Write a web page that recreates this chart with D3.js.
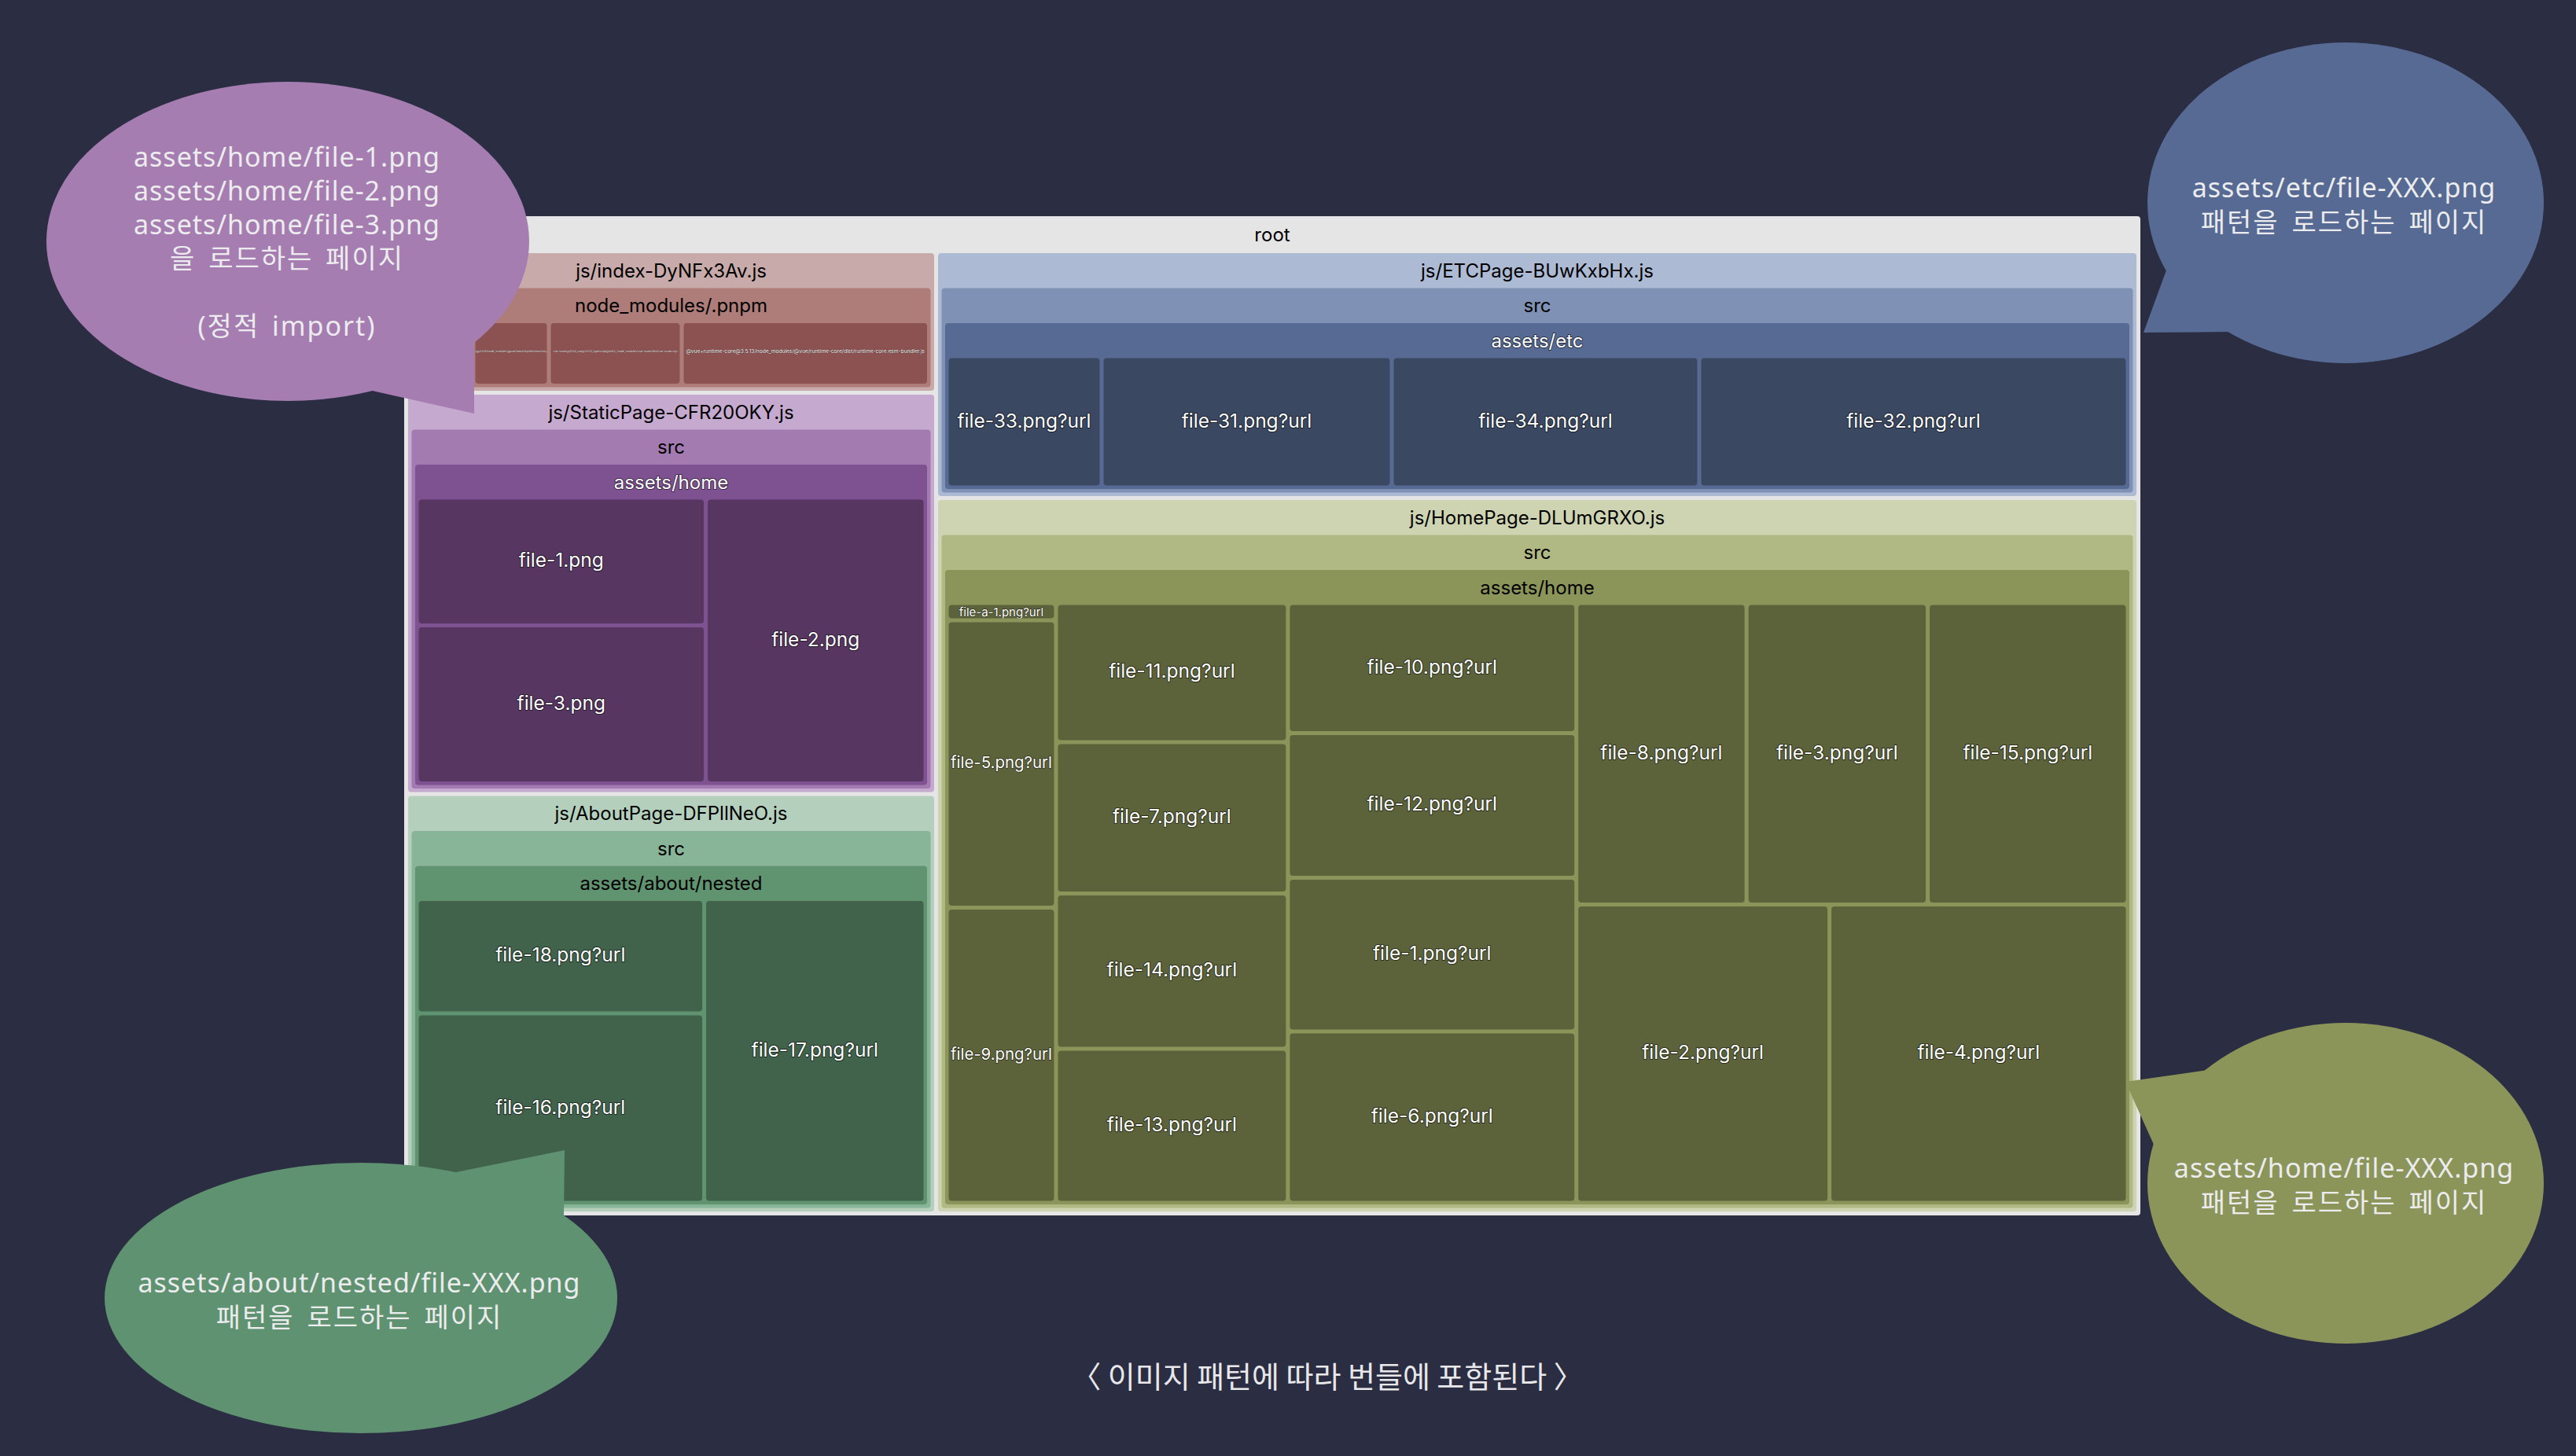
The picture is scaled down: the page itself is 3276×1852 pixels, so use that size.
<!DOCTYPE html>
<html>
<head>
<meta charset="utf-8">
<script src="https://cdn.jsdelivr.net/npm/d3@7"></script>
<style>
  html, body { margin: 0; padding: 0; background: #2b2d42; }
  svg { display: block; }
</style>
</head>
<body>
<svg id="chart" width="3276" height="1852"></svg>
<script>
// ---------------- DATA ----------------
const bundleNames = ["js/index-DyNFx3Av.js", "js/StaticPage-CFR20OKY.js", "js/AboutPage-DFPllNeO.js", "js/ETCPage-BUwKxbHx.js", "js/HomePage-DLUmGRXO.js"];
const bundleDirs = [["node_modules/.pnpm"], ["src", "assets/home"], ["src", "assets/about/nested"], ["src", "assets/etc"], ["src", "assets/home"]];

const indexFiles = [
  "@vue+shared@3.5.13/node_modules/@vue/shared/dist/shared.esm-bundler.js",
  "@vue+reactivity@3.5.13/node_modules/@vue/reactivity/dist/reactivity.esm-bundler.js",
  "vue-router@4.5.0_vue@3.5.13_typescript@5.6.3_/node_modules/vue-router/dist/vue-router.mjs",
  "@vue+runtime-core@3.5.13/node_modules/@vue/runtime-core/dist/runtime-core.esm-bundler.js"
];
const indexSizes = [14.15, 17.75, 31.25, 58.16];

const staticFiles = ["file-1.png", "file-3.png", "file-2.png"];
const staticSizes = [87.42, 108.05, 148.60];

const aboutFiles = ["file-18.png?url", "file-16.png?url", "file-17.png?url"];
const aboutSizes = [76.52, 126.65, 156.41];

const etcFiles = ["file-33.png?url", "file-31.png?url", "file-34.png?url", "file-32.png?url"];
const etcSizes = [62.97, 117.95, 124.98, 174.21];

const homeFiles = ["file-a-1.png?url", "file-5.png?url", "file-9.png?url",
  "file-11.png?url", "file-7.png?url", "file-14.png?url", "file-13.png?url",
  "file-10.png?url", "file-12.png?url", "file-1.png?url", "file-6.png?url",
  "file-8.png?url", "file-3.png?url", "file-15.png?url", "file-2.png?url", "file-4.png?url"];
const homeSizes = [3.72, 61.65, 63.35, 63.36, 68.92, 70.72, 70.18, 73.69, 81.95, 87.09, 97.13, 100.77, 107.29, 118.46, 148.31, 174.80];

const bundleFiles = [indexFiles, staticFiles, aboutFiles, etcFiles, homeFiles];
const bundleSizes = [indexSizes, staticSizes, aboutSizes, etcSizes, homeSizes];

// colour shades per bundle, by depth (bundle, dir..., leaf)
const bundleShades = [
  ["#c9aaaa", "#ae7d79", "#8c5251"],
  ["#c6a9cf", "#a37bb0", "#7e5290", "#573762"],
  ["#b4d0bd", "#88b598", "#609370", "#41624b"],
  ["#adbad4", "#7f91b5", "#566a93", "#3a4862"],
  ["#ced4b1", "#b0b983", "#8b955a", "#5c633b"]
];
const rootColor = "#e5e5e5";

// annotation bubbles
const bubbleTexts = [
  ["assets/home/file-1.png", "assets/home/file-2.png", "assets/home/file-3.png", "을 로드하는 페이지", "", "(정적 import)"],
  ["assets/etc/file-XXX.png", "패턴을 로드하는 페이지"],
  ["assets/about/nested/file-XXX.png", "패턴을 로드하는 페이지"],
  ["assets/home/file-XXX.png", "패턴을 로드하는 페이지"]
];
const caption = "〈 이미지 패턴에 따라 번들에 포함된다 〉";

// ---------------- BUILD HIERARCHY ----------------
const data = {
  name: "root",
  children: bundleNames.map((b, i) => {
    let inner = bundleFiles[i].map((f, j) => ({ name: f, value: bundleSizes[i][j] }));
    for (let k = bundleDirs[i].length - 1; k >= 0; k--) {
      inner = [{ name: bundleDirs[i][k], children: inner }];
    }
    return { name: b, group: i, children: inner };
  })
};

const svg = d3.select("#chart");

// treemap area
const TM = { x: 514, y: 275, w: 2208, h: 1271 };

const root = d3.hierarchy(data).sum(d => d.value || 0);
d3.treemap()
  .size([TM.w, TM.h])
  .paddingTop(d => d.depth === 0 ? 47 : 44.5)
  .paddingLeft(d => d.depth === 0 ? 5 : 4.5)
  .paddingRight(d => d.depth === 0 ? 5 : 4.5)
  .paddingBottom(d => d.depth === 0 ? 5 : 4.5)
  .paddingInner(5)(root);

function groupOf(d) { let n = d; while (n.depth > 1) n = n.parent; return n.data.group; }
function colorOf(d) { return d.depth === 0 ? rootColor : bundleShades[groupOf(d)][d.depth - 1]; }
function isDark(c) { return d3.lab(c).l < 50; }

const defs = svg.append("defs");
const g = svg.append("g").attr("transform", `translate(${TM.x},${TM.y})`);
const FONT = "Inter, 'Helvetica Neue', Arial, sans-serif";

const nodes = root.descendants();
const cell = g.selectAll("g.node").data(nodes).join("g").attr("class", "node");

cell.append("rect")
  .attr("x", d => d.x0).attr("y", d => d.y0)
  .attr("width", d => d.x1 - d.x0).attr("height", d => d.y1 - d.y0)
  .attr("rx", 4).attr("ry", 4)
  .attr("fill", d => colorOf(d));

// clip paths for leaves
nodes.filter(d => !d.children).forEach((d, i) => {
  d.clipId = "clip" + i;
  defs.append("clipPath").attr("id", d.clipId)
    .append("rect").attr("x", d.x0 + TM.x).attr("y", d.y0 + TM.y)
    .attr("width", d.x1 - d.x0).attr("height", d.y1 - d.y0);
});

// titles of internal nodes
cell.filter(d => d.children).append("text")
  .attr("x", d => (d.x0 + d.x1) / 2)
  .attr("y", d => d.y0 + (d.depth === 0 ? 47 : 44.5) / 2)
  .attr("text-anchor", "middle")
  .attr("dominant-baseline", "central")
  .attr("font-family", FONT)
  .attr("font-size", 24)
  .attr("fill", d => isDark(colorOf(d)) ? "#ffffff" : "#000000")
  .attr("stroke", d => isDark(colorOf(d)) ? "rgba(0,0,0,0.55)" : "none")
  .attr("stroke-width", 2)
  .attr("paint-order", "stroke")
  .attr("stroke-linejoin", "round")
  .text(d => d.data.name);

// leaf labels
const leafText = cell.filter(d => !d.children).append("text")
  .attr("clip-path", d => `url(#${d.clipId})`)
  .attr("transform", `translate(${-TM.x},${-TM.y})`)
  .attr("x", d => (d.x0 + d.x1) / 2 + TM.x)
  .attr("y", d => (d.y0 + d.y1) / 2 + TM.y - 2)
  .attr("text-anchor", "middle")
  .attr("dominant-baseline", "central")
  .attr("font-family", FONT)
  .attr("font-size", 24.5)
  .attr("fill", "#ffffff")
  .attr("stroke", "rgba(0,0,0,0.55)")
  .attr("paint-order", "stroke")
  .attr("stroke-linejoin", "round")
  .text(d => d.data.name);

leafText.each(function(d) {
  const t = d3.select(this);
  const len = this.getComputedTextLength();
  const w = d.x1 - d.x0, h = d.y1 - d.y0;
  let fs = 24.5;
  if (len > w - 5) fs = 24.5 * (w - 5) / len;
  if (fs > h * 0.88) fs = h * 0.88;
  fs = Math.max(fs, 3.5);
  t.attr("font-size", fs).attr("stroke-width", Math.max(0.3, fs / 12));
  if (h < 30) t.attr("y", (d.y0 + d.y1) / 2 + TM.y);
});

// ---------------- ANNOTATIONS ----------------
const bubbles = [
  { fill: "#a57db1", cx: 366, cy: 307, rx: 307, ry: 203, tail: [[460, 494], [603, 526], [603, 405]], tx: 365, ty: 212, lh: 43 },
  { fill: "#566a93", cx: 2983, cy: 258, rx: 252, ry: 204, tail: [[2760, 330], [2726, 423], [2840, 422]], tx: 2981, ty: 251, lh: 44 },
  { fill: "#5f9270", cx: 459, cy: 1651, rx: 326, ry: 172, tail: [[575, 1492], [718, 1463], [717, 1548]], tx: 457, ty: 1644, lh: 44 },
  { fill: "#8b955a", cx: 2983, cy: 1505, rx: 252, ry: 204, tail: [[2808, 1361], [2703, 1376], [2740, 1458]], tx: 2981, ty: 1498, lh: 44 }
];

const ann = svg.append("g");
bubbles.forEach((b, i) => {
  const bg = ann.append("g");
  bg.append("polygon").attr("points", b.tail.map(p => p.join(",")).join(" ")).attr("fill", b.fill);
  bg.append("ellipse").attr("cx", b.cx).attr("cy", b.cy).attr("rx", b.rx).attr("ry", b.ry).attr("fill", b.fill);
  const txt = bg.append("text")
    .attr("text-anchor", "middle")
    .attr("font-family", "'Noto Sans', 'Noto Sans CJK KR', sans-serif")
    .attr("font-size", 34)
    .attr("fill", "#ececee");
  bubbleTexts[i].forEach((line, k) => {
    const hangul = /[가-힣]/.test(line);
    txt.append("tspan")
      .attr("x", b.tx).attr("y", b.ty + k * b.lh)
      .attr("letter-spacing", hangul ? 2 : 1)
      .attr("word-spacing", hangul ? 5 : 0)
      .text(line);
  });
});

svg.append("text")
  .attr("x", 1688).attr("y", 1765)
  .attr("text-anchor", "middle")
  .attr("font-family", "'Noto Sans CJK KR', sans-serif")
  .attr("font-size", 38)
  .attr("fill", "#e8e8ea")
  .text(caption);
</script>
</body>
</html>
